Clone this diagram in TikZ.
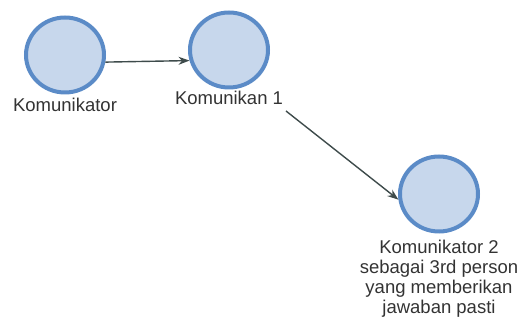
\documentclass[tikz,border=0pt]{standalone}
\usepackage{fontspec}
\setmainfont{Liberation Sans}
\usetikzlibrary{shapes.geometric,arrows.meta}
\definecolor{nodefill}{HTML}{C7D7EC}
\definecolor{nodeline}{HTML}{5B8BC7}
\definecolor{edgecol}{HTML}{3E4B4B}
\definecolor{txtcol}{HTML}{333333}
\tikzset{
  vert/.style={ellipse, draw=nodeline, fill=nodefill, line width=4pt, minimum width=78pt, minimum height=75pt, inner sep=0pt},
  lbl/.style={text=txtcol, font=\fontsize{18.5}{20}\selectfont, inner sep=0pt, anchor=base, align=center},
  edge/.style={draw=edgecol, line width=1.4pt, -{Stealth[length=11pt,width=8pt]}}
}
\begin{document}
\begin{tikzpicture}[x=1pt,y=-1pt]
\useasboundingbox (0,0) rectangle (520,320);
\node[vert] (c1) at (65,55) {};
\node[vert] (c2) at (229,50) {};
\node[vert] (c3) at (439,194) {};
\node[lbl] (l1) at (65,112) {Komunikator};
\node[lbl] (l2) at (229,105) {Komunikan 1};
\node[lbl, anchor=north] (l3) at (439,240) {Komunikator 2\\sebagai 3rd person\\yang memberikan\\jawaban pasti};
\coordinate (s2) at (286,111);
\draw[edge] (c1.-10) -- (c2.-165);
\draw[edge] (s2) -- (c3.188);
\end{tikzpicture}
\end{document}
